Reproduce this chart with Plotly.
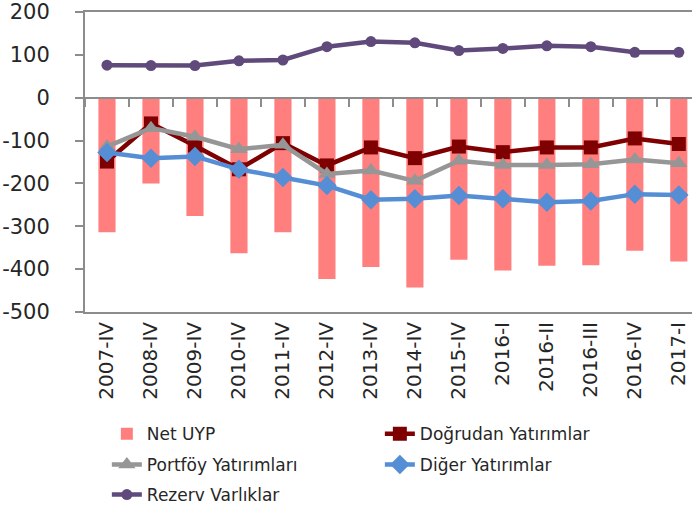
import plotly.graph_objects as go

categories = ["2007-IV", "2008-IV", "2009-IV", "2010-IV", "2011-IV", "2012-IV", "2013-IV",
              "2014-IV", "2015-IV", "2016-I", "2016-II", "2016-III", "2016-IV", "2017-I"]
net_uyp = [-314, -200, -276, -363, -314, -423, -395, -443, -378, -403, -392, -391, -357, -382]
dogrudan = [-149, -60, -112, -167, -106, -158, -116, -141, -114, -127, -116, -116, -95, -108]
portfoy = [-114, -71, -91, -120, -110, -178, -170, -194, -147, -157, -157, -155, -144, -153]
diger = [-128, -141, -137, -167, -186, -205, -238, -236, -228, -236, -244, -241, -225, -227]
rezerv = [76, 75, 75, 86, 88, 119, 131, 128, 110, 115, 121, 119, 106, 106]

y_ticks = [200, 100, 0, -100, -200, -300, -400, -500]
y_tick_labels = ["200", "100", "0", "-100", "-200", "-300", "-400", "-500"]

FONT = "DejaVu Sans"
TXT = "#262626"
AX = "#8c8c8c"

fig = go.Figure()
fig.add_trace(go.Bar(x=categories, y=net_uyp, name="Net UYP", marker=dict(color="#FF7F7F", line=dict(width=0)),
                     width=0.39, legend="legend"))
fig.add_trace(go.Scatter(x=categories, y=dogrudan, name="Doğrudan Yatırımlar", mode="lines+markers",
                         line=dict(color="#7F0000", width=4.5), marker=dict(symbol="square", size=14, color="#7F0000"),
                         legend="legend"))
fig.add_trace(go.Scatter(x=categories, y=portfoy, name="Portföy Yatırımları", mode="lines+markers",
                         line=dict(color="#969696", width=4.5), marker=dict(symbol="triangle-up", size=15, color="#969696"),
                         legend="legend2"))
fig.add_trace(go.Scatter(x=categories, y=diger, name="Diğer Yatırımlar", mode="lines+markers",
                         line=dict(color="#558ED5", width=4.5), marker=dict(symbol="diamond", size=15, color="#558ED5"),
                         legend="legend2"))
fig.add_trace(go.Scatter(x=categories, y=rezerv, name="Rezerv Varlıklar", mode="lines+markers",
                         line=dict(color="#604A7B", width=4.5), marker=dict(symbol="circle", size=11, color="#604A7B"),
                         legend="legend3"))
# helper axis at zero carrying the category tick marks
fig.add_trace(go.Scatter(x=categories, y=[None] * len(categories), xaxis="x2", showlegend=False,
                         hoverinfo="skip", mode="lines"))

xr = [-0.5, 13.3]
legend_common = dict(orientation="h", x=0.036, xanchor="left", yanchor="middle",
                     entrywidth=228, entrywidthmode="pixels",
                     font=dict(family=FONT, size=17, color=TXT), bgcolor="rgba(0,0,0,0)",
                     itemwidth=30, tracegroupgap=0)

fig.update_layout(
    width=692, height=509,
    margin=dict(l=85, r=0, t=12, b=197, autoexpand=False),
    paper_bgcolor="white", plot_bgcolor="white",
    font=dict(family=FONT, color=TXT),
    barmode="overlay",
    xaxis=dict(type="category", range=xr, showline=True, mirror=True, linecolor=AX, linewidth=2,
               ticks="", tickangle=-90, tickfont=dict(family=FONT, size=20, color=TXT),
               showgrid=False, zeroline=False, automargin=False),
    xaxis2=dict(type="category", range=xr, overlaying="x", anchor="free", position=5 / 7, side="bottom",
                showline=True, linecolor=AX, linewidth=2, ticks="outside", ticklen=8, tickwidth=1.5,
                tickcolor=AX, tickson="boundaries", showticklabels=False, showgrid=False, zeroline=False),
    yaxis=dict(range=[-500, 200], tickvals=y_ticks, ticktext=y_tick_labels, showline=True, linecolor=AX,
               linewidth=2, ticks="outside", ticklen=8, tickwidth=1.5, tickcolor=AX, showgrid=False,
               zeroline=False, automargin=False, ticklabelstandoff=21,
               tickfont=dict(family=FONT, size=21, color=TXT)),
    legend=dict(legend_common, y=-0.407),
    legend2=dict(legend_common, y=-0.51),
    legend3=dict(legend_common, y=-0.61),
)

fig.write_html("out.html", config={"displayModeBar": False},
               post_script="document.body.style.margin='0';document.body.style.overflow='hidden';")
